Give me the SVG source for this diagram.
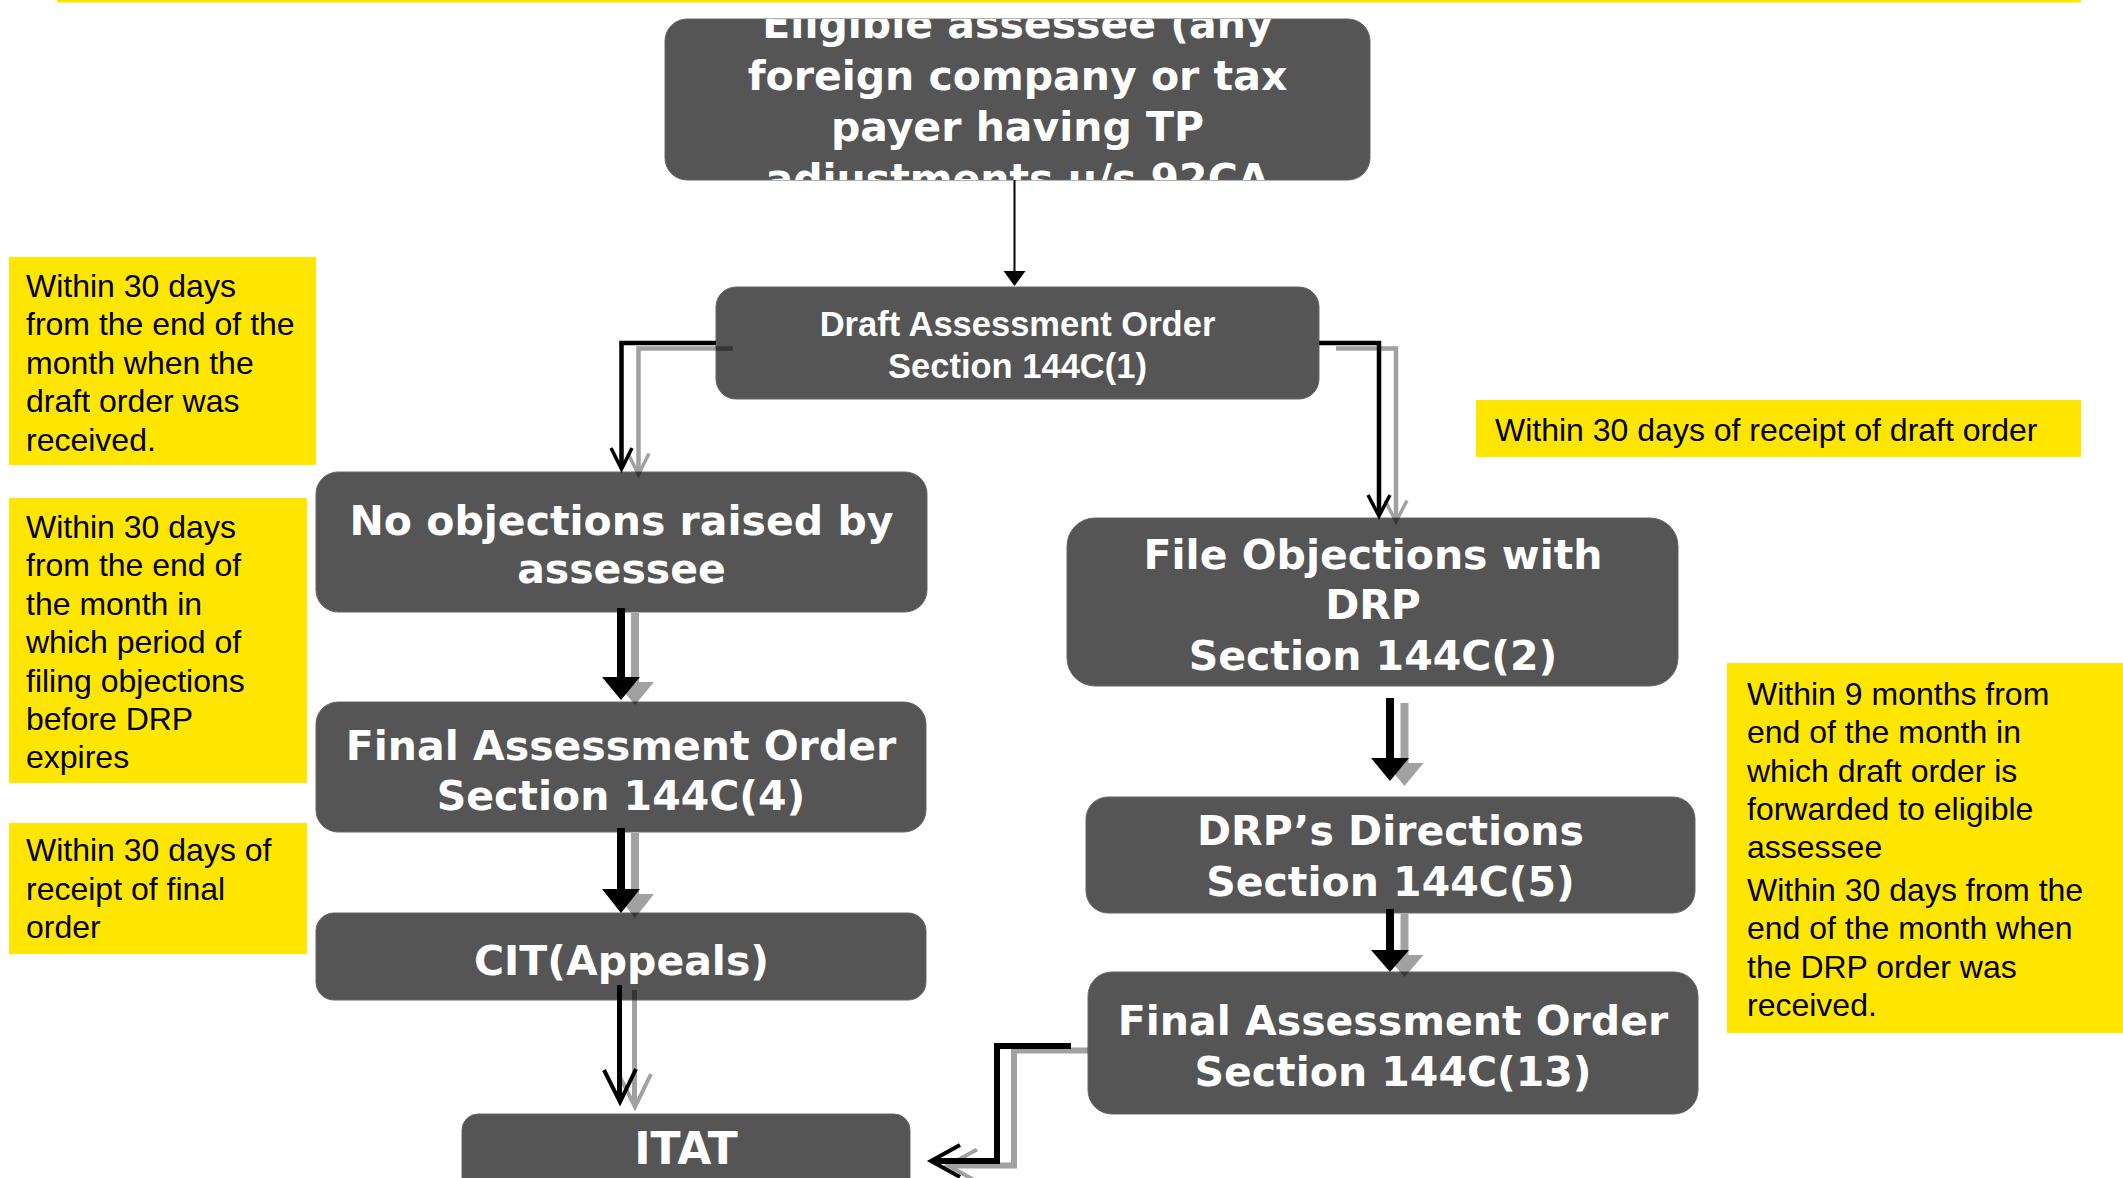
<svg xmlns="http://www.w3.org/2000/svg" width="2123" height="1178" viewBox="0 0 2123 1178">
  <style>
    .box { fill: #555555; stroke: #666666; stroke-width: 1; }
    .nt { font-family: "DejaVu Sans", Verdana, sans-serif; font-weight: bold; font-size: 41px; fill: #ffffff; text-anchor: middle; }
    .nt2 { font-family: "Liberation Sans", Arial, sans-serif; font-weight: bold; font-size: 34.5px; fill: #ffffff; text-anchor: middle; }
    .note { fill: #FFE600; }
    .ntx { font-family: "Liberation Sans", Arial, sans-serif; font-size: 32px; fill: #000000; }
    .ln { fill: none; stroke: #000000; stroke-linejoin: miter; }
    .hd { fill: #000000; stroke: none; }
  </style>
  <defs>
    <clipPath id="clipTop">
      <rect x="665" y="19" width="705" height="161" rx="22"/>
    </clipPath>
  </defs>
  <rect width="2123" height="1178" fill="#ffffff"/>
  <rect x="57" y="0" width="2024" height="2.5" fill="#FFE600"/>

  <g id="note-draft-no-objection">
    <rect class="note" x="9" y="257" width="307" height="208"/>
    <text class="ntx" x="26" y="297">Within 30 days</text>
    <text class="ntx" x="26" y="335.4">from the end of the</text>
    <text class="ntx" x="26" y="373.8">month when the</text>
    <text class="ntx" x="26" y="412.2">draft order was</text>
    <text class="ntx" x="26" y="450.6">received.</text>
  </g>
  <g id="note-final-order">
    <rect class="note" x="9" y="498" width="298" height="285"/>
    <text class="ntx" x="26" y="538">Within 30 days</text>
    <text class="ntx" x="26" y="576.4">from the end of</text>
    <text class="ntx" x="26" y="614.8">the month in</text>
    <text class="ntx" x="26" y="653.2">which period of</text>
    <text class="ntx" x="26" y="691.6">filing objections</text>
    <text class="ntx" x="26" y="730">before DRP</text>
    <text class="ntx" x="26" y="768.4">expires</text>
  </g>
  <g id="note-appeal">
    <rect class="note" x="9" y="823" width="298" height="131"/>
    <text class="ntx" x="26" y="861">Within 30 days of</text>
    <text class="ntx" x="26" y="899.5">receipt of final</text>
    <text class="ntx" x="26" y="938">order</text>
  </g>
  <g id="note-objections">
    <rect class="note" x="1476" y="400" width="605" height="57"/>
    <text class="ntx" x="1495" y="441">Within 30 days of receipt of draft order</text>
  </g>
  <g id="note-drp">
    <rect class="note" x="1727" y="663" width="396" height="370"/>
    <text class="ntx" x="1747" y="705">Within 9 months from</text>
    <text class="ntx" x="1747" y="743.3">end of the month in</text>
    <text class="ntx" x="1747" y="781.6">which draft order is</text>
    <text class="ntx" x="1747" y="819.9">forwarded to eligible</text>
    <text class="ntx" x="1747" y="858.2">assessee</text>
    <text class="ntx" x="1747" y="901">Within 30 days from the</text>
    <text class="ntx" x="1747" y="939.3">end of the month when</text>
    <text class="ntx" x="1747" y="977.6">the DRP order was</text>
    <text class="ntx" x="1747" y="1015.9">received.</text>
  </g>

  <g id="node-eligible">
    <rect class="box" x="665" y="19" width="705" height="161" rx="22"/>
    <g clip-path="url(#clipTop)">
      <text class="nt" x="1017.5" y="38">Eligible assessee (any</text>
      <text class="nt" x="1017.5" y="90">foreign company or tax</text>
      <text class="nt" x="1017.5" y="141">payer having TP</text>
      <text class="nt" x="1017.5" y="193">adjustments u/s 92CA</text>
    </g>
  </g>
  <g id="node-draft">
    <rect class="box" x="716" y="287" width="603" height="112" rx="20"/>
    <text class="nt2" x="1017.5" y="336">Draft Assessment Order</text>
    <text class="nt2" x="1017.5" y="378">Section 144C(1)</text>
  </g>
  <g id="node-no-objections">
    <rect class="box" x="316" y="472" width="611" height="140" rx="22"/>
    <text class="nt" x="621.5" y="534.5">No objections raised by</text>
    <text class="nt" x="621.5" y="583">assessee</text>
  </g>
  <g id="node-final-4">
    <rect class="box" x="316" y="702" width="610" height="130" rx="22"/>
    <text class="nt" x="621" y="760">Final Assessment Order</text>
    <text class="nt" x="621" y="810">Section 144C(4)</text>
  </g>
  <g id="node-cit">
    <rect class="box" x="316" y="913" width="610" height="87" rx="18"/>
    <text class="nt" x="621.5" y="975">CIT(Appeals)</text>
  </g>
  <g id="node-itat">
    <rect class="box" x="462" y="1114" width="448" height="90" rx="16"/>
    <text class="nt" x="686" y="1164" style="font-size:44px">ITAT</text>
  </g>
  <g id="node-file-objections">
    <rect class="box" x="1067" y="518" width="611" height="168" rx="28"/>
    <text class="nt" x="1373" y="569">File Objections with</text>
    <text class="nt" x="1373" y="619">DRP</text>
    <text class="nt" x="1373" y="670">Section 144C(2)</text>
  </g>
  <g id="node-drp-directions">
    <rect class="box" x="1086" y="797" width="609" height="116" rx="22"/>
    <text class="nt" x="1390.5" y="845">DRP’s Directions</text>
    <text class="nt" x="1390.5" y="896">Section 144C(5)</text>
  </g>
  <g id="node-final-13">
    <rect class="box" x="1088" y="972" width="610" height="142" rx="24"/>
    <text class="nt" x="1393" y="1035">Final Assessment Order</text>
    <text class="nt" x="1393" y="1086">Section 144C(13)</text>
  </g>

  <g id="connectors">
    <!-- eligible -> draft -->
    <g>
      <line class="ln" x1="1014.5" y1="180" x2="1014.5" y2="272" stroke-width="2"/>
      <polygon class="hd" points="1003.5,271 1025.5,271 1014.5,286"/>
    </g>
    <!-- shadows -->
    <g opacity="0.37">
      <g transform="translate(17,5.5)">
        <path class="ln" d="M716,343 H621.5 V467" stroke-width="4.5"/>
        <path class="ln" d="M611,448 L621.5,469 L632,448" stroke-width="3.5"/>
        <path class="ln" d="M1319,343 H1379 V514" stroke-width="4.5"/>
        <path class="ln" d="M1368,495 L1379,516 L1390,495" stroke-width="3.5"/>
      </g>
      <g transform="translate(14,5)">
        <path class="ln" d="M621,608 V678" stroke-width="8"/>
        <polygon class="hd" points="602,677 640,677 621,700"/>
        <path class="ln" d="M621,828 V890" stroke-width="8"/>
        <polygon class="hd" points="602,889 640,889 621,913"/>
      </g>
      <g transform="translate(15,5)">
        <path class="ln" d="M619.5,985 V1099" stroke-width="5"/>
        <path class="ln" d="M604,1070 L620,1102 L636,1069" stroke-width="4"/>
      </g>
      <g transform="translate(14.5,5)">
        <path class="ln" d="M1390,698 V759" stroke-width="8"/>
        <polygon class="hd" points="1371,758 1409,758 1390,781"/>
        <path class="ln" d="M1390,909 V951" stroke-width="8"/>
        <polygon class="hd" points="1371,950 1409,950 1390,972"/>
      </g>
      <g transform="translate(17,4.5)">
        <path class="ln" d="M1071,1046 H997 V1161 H933" stroke-width="6"/>
        <path class="ln" d="M960,1145 L931,1161 L960,1177" stroke-width="4"/>
      </g>
    </g>
    <!-- draft -> no objections -->
    <g>
      <path class="ln" d="M716,343 H621.5 V467" stroke-width="4.5"/>
      <path class="ln" d="M611,448 L621.5,469 L632,448" stroke-width="3.5"/>
    </g>
    <!-- draft -> file objections -->
    <g>
      <path class="ln" d="M1319,343 H1379 V514" stroke-width="4.5"/>
      <path class="ln" d="M1368,495 L1379,516 L1390,495" stroke-width="3.5"/>
    </g>
    <!-- no objections -> final 4 -->
    <g>
      <path class="ln" d="M621,608 V678" stroke-width="8"/>
      <polygon class="hd" points="602,677 640,677 621,700"/>
    </g>
    <!-- final 4 -> CIT -->
    <g>
      <path class="ln" d="M621,828 V890" stroke-width="8"/>
      <polygon class="hd" points="602,889 640,889 621,913"/>
    </g>
    <!-- CIT -> ITAT -->
    <g>
      <path class="ln" d="M619.5,985 V1099" stroke-width="5"/>
      <path class="ln" d="M604,1070 L620,1102 L636,1069" stroke-width="4"/>
    </g>
    <!-- file objections -> DRP directions -->
    <g>
      <path class="ln" d="M1390,698 V759" stroke-width="8"/>
      <polygon class="hd" points="1371,758 1409,758 1390,781"/>
    </g>
    <!-- DRP directions -> final 13 -->
    <g>
      <path class="ln" d="M1390,909 V951" stroke-width="8"/>
      <polygon class="hd" points="1371,950 1409,950 1390,972"/>
    </g>
    <!-- final 13 -> ITAT -->
    <g>
      <path class="ln" d="M1071,1046 H997 V1161 H933" stroke-width="6"/>
      <path class="ln" d="M960,1145 L931,1161 L960,1177" stroke-width="4"/>
    </g>
  </g>
</svg>
